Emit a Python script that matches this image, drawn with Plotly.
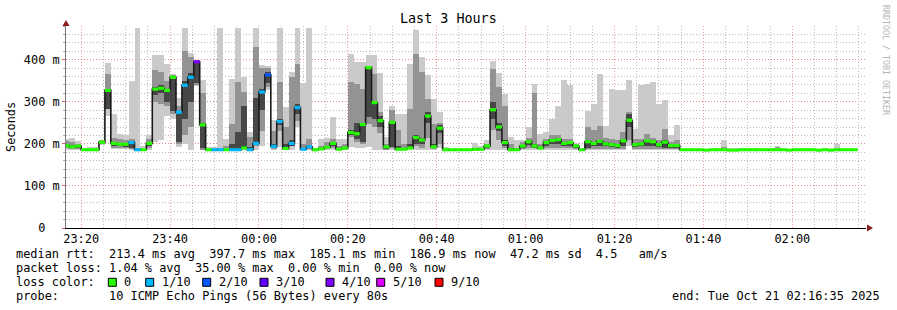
import pandas as pd
import plotly.graph_objects as go

# ---------------- data ----------------
FIRST_EDGE = pd.Timestamp("2025-10-20 23:17:20")   # left edge of column k=0
FIRST_COL = -1                                      # first column index drawn
STEP_S = 80                                         # seconds per consolidated step
RANGE_START = "2025-10-20 23:16:35"
RANGE_END = "2025-10-21 02:16:35"

median_ms = [196, 193, 195, 186, 186, 186, 204, 327, 201, 199, 199, 203, 186, 186, 201,
             330, 332, 327, 358, 275, 339, 358, 395, 245, 186, 186, 186, 186, 186, 186,
             190, 186, 201, 323, 364, 194, 253, 189, 201, 286, 187, 193, 186, 188, 192,
             201, 187, 190, 227, 224, 246, 381, 298, 255, 193, 251, 187, 187, 190, 215,
             209, 266, 193, 237, 186, 186, 186, 186, 186, 187, 187, 195, 281, 240, 203,
             186, 186, 195, 205, 195, 190, 203, 208, 210, 201, 203, 195, 186, 205, 201,
             206, 200, 198, 196, 207, 256, 198, 200, 207, 205, 198, 204, 196, 196,
             186, 186, 186, 186, 185, 186, 186, 186, 185, 185, 186, 186, 186, 186, 186,
             186, 186, 186, 185, 186, 186, 186, 186, 185, 186, 185, 186, 186, 186, 186]

loss_tenths = [0, 0, 0, 0, 0, 0, 0, 0, 0, 0, 0, 1, 1, 0, 0,
               0, 0, 0, 0, 1, 1, 1, 4, 0, 0, 1, 1, 0, 1, 1,
               0, 1, 1, 1, 2, 1, 1, 0, 1, 1, 1, 1, 0, 0, 0,
               0, 0, 0, 0, 0, 0, 0, 0, 0, 0, 0, 0, 0, 0, 0,
               0, 0, 0, 0, 0, 0, 0, 0, 0, 0, 0, 0, 0, 0, 0,
               0, 0, 0, 0, 0, 0, 0, 0, 0, 0, 0, 0, 0, 0, 0,
               0, 0, 0, 0, 0, 0, 0, 0, 0, 0, 0, 0, 0, 0,
               0, 0, 0, 0, 0, 0, 0, 0, 0, 0, 0, 0, 0, 0, 0,
               0, 0, 0, 0, 0, 0, 0, 0, 0, 0, 0, 0, 0, 0, 0]

ping_min = [186, 186, 186, 185, 185, 185, 198, 265, 188, 188, 187, 186, 185, 185, 186,
            204, 210, 265, 260, 192, 200, 186, 338, 186, 185, 185, 185, 185, 185, 185,
            186, 185, 186, 196, 327, 186, 192, 186, 186, 240, 185, 186, 185, 185, 186,
            186, 185, 185, 192, 190, 190, 192, 186, 186, 185, 186, 185, 185, 186, 186,
            186, 186, 186, 190, 185, 185, 185, 185, 185, 185, 185, 186, 186, 186, 186,
            185, 185, 186, 186, 186, 186, 186, 186, 186, 186, 186, 186, 185, 186, 186,
            186, 186, 186, 186, 186, 195, 186, 186, 186, 186, 186, 186, 186, 186,
            185, 185, 185, 185, 185, 185, 185, 185, 185, 185, 185, 185, 185, 185, 185,
            185, 185, 185, 185, 185, 185, 185, 185, 185, 185, 185, 185, 185, 185, 185]

ping_max = [212, 214, 206, 188, 193, 192, 210, 393, 270, 224, 222, 350, 476, 195, 222,
            410, 412, 390, 365, 310, 476, 416, 400, 352, 192, 192, 476, 212, 355, 476,
            359, 228, 476, 388, 386, 257, 476, 287, 370, 476, 344, 476, 190, 212, 215,
            263, 212, 212, 414, 394, 394, 410, 410, 368, 216, 290, 270, 270, 390, 470,
            406, 363, 307, 275, 192, 188, 188, 187, 187, 203, 196, 209, 398, 369, 319,
            217, 208, 208, 240, 343, 224, 228, 260, 291, 351, 340, 203, 190, 278, 294,
            367, 243, 331, 329, 329, 352, 236, 340, 343, 347, 295, 305, 221, 245,
            187, 187, 187, 187, 187, 187, 190, 210, 190, 190, 190, 190, 190, 187, 187,
            190, 196, 190, 187, 190, 187, 187, 187, 187, 190, 187, 200, 187, 187, 187]

mid_lo = [189, 188, 187, 185, 185, 185, 199, 295, 190, 190, 189, 188, 185, 185, 190,
          300, 295, 290, 270, 200, 220, 240, 340, 186, 185, 185, 185, 185, 186, 186,
          188, 185, 195, 230, 335, 188, 230, 188, 195, 255, 185, 188, 185, 186, 187,
          190, 186, 186, 216, 205, 200, 248, 240, 225, 186, 190, 186, 186, 188, 195,
          190, 215, 188, 200, 185, 185, 185, 185, 185, 186, 186, 188, 232, 210, 190,
          186, 185, 188, 190, 190, 187, 190, 190, 190, 190, 190, 187, 185, 188, 188,
          188, 188, 188, 188, 188, 210, 188, 188, 188, 188, 188, 188, 187, 187,
          185, 185, 185, 185, 185, 185, 185, 186, 185, 185, 185, 185, 185, 185, 185,
          185, 185, 185, 185, 185, 185, 185, 185, 185, 185, 185, 185, 185, 185, 185]

mid_hi = [206, 205, 200, 187, 188, 188, 208, 367, 215, 212, 210, 212, 190, 188, 212,
          375, 370, 350, 364, 290, 420, 406, 399, 320, 188, 188, 190, 195, 248, 347,
          323, 216, 430, 380, 380, 230, 347, 240, 360, 390, 200, 212, 187, 195, 205,
          212, 195, 200, 347, 343, 331, 382, 367, 275, 200, 280, 233, 200, 283, 414,
          370, 307, 248, 250, 187, 187, 187, 187, 187, 190, 190, 200, 378, 335, 290,
          200, 190, 205, 215, 321, 200, 212, 222, 222, 212, 212, 200, 188, 240, 232,
          243, 215, 212, 210, 228, 275, 212, 212, 224, 215, 210, 236, 205, 210,
          187, 187, 187, 187, 187, 187, 187, 192, 187, 187, 187, 187, 187, 187, 187,
          187, 193, 187, 187, 187, 187, 187, 187, 187, 187, 187, 190, 187, 187, 187]

core_lo = [192, 189, 189, 186, 186, 186, 201, 282, 194, 194, 193, 190, 185, 186, 196,
           315, 320, 300, 278, 204, 260, 300, 345, 190, 185, 185, 185, 185, 186, 186,
           189, 185, 200, 280, 345, 190, 245, 188, 196, 270, 186, 189, 185, 186, 189,
           195, 186, 187, 220, 212, 205, 263, 260, 240, 188, 192, 186, 186, 189, 200,
           200, 250, 189, 225, 185, 185, 185, 185, 185, 186, 186, 190, 260, 230, 195,
           186, 186, 190, 198, 190, 188, 196, 200, 200, 195, 195, 190, 186, 190, 195,
           195, 194, 193, 191, 195, 240, 193, 194, 196, 195, 192, 190, 190, 190,
           185, 185, 185, 185, 185, 185, 185, 185, 185, 185, 185, 185, 185, 185, 185,
           185, 185, 185, 185, 185, 185, 185, 185, 185, 185, 185, 185, 185, 185, 185]

core_hi = [199, 197, 197, 187, 187, 187, 206, 330, 205, 203, 203, 206, 188, 187, 205,
           335, 340, 330, 362, 275, 350, 368, 397, 250, 187, 187, 187, 188, 200, 228,
           290, 192, 310, 330, 370, 200, 260, 200, 210, 295, 190, 196, 187, 190, 195,
           205, 189, 193, 232, 250, 250, 383, 300, 265, 196, 255, 195, 190, 200, 220,
           215, 275, 200, 245, 187, 187, 187, 187, 187, 189, 189, 197, 300, 250, 210,
           188, 188, 198, 208, 200, 193, 206, 212, 214, 205, 206, 197, 187, 210, 205,
           210, 205, 203, 200, 210, 270, 203, 205, 210, 208, 203, 210, 200, 200,
           187, 187, 187, 187, 187, 187, 187, 187, 187, 187, 187, 187, 187, 187, 187,
           187, 187, 187, 187, 187, 187, 187, 187, 187, 187, 187, 187, 187, 187, 187]

loss_colors = {0: "#26ff00", 1: "#00b8ff", 2: "#0059ff", 3: "#5e00ff",
               4: "#7e00ff", 5: "#dd00ff", 9: "#ff0000"}
loss_labels = ["0", "1/10", "2/10", "3/10", "4/10", "5/10", "9/10"]
loss_keys = [0, 1, 2, 3, 4, 5, 9]

y_tickvals = [0, 100, 200, 300, 400]
y_ticktext = ["0\u00a0\u00a0", "100 m", "200 m", "300 m", "400 m"]

legend_lines = [
    "median rtt:  213.4 ms avg  397.7 ms max  185.1 ms min  186.9 ms now  47.2 ms sd  4.5   am/s",
    "packet loss: 1.04 % avg  35.00 % max  0.00 % min  0.00 % now",
    "loss color:",
    "probe:       10 ICMP Echo Pings (56 Bytes) every 80s",
]
end_text = "end: Tue Oct 21 02:16:35 2025"
title_text = "Last 3 Hours"

# ---------------- geometry helpers ----------------
W, H = 897, 310
PL, PR, PT, PB = 66, 866, 26, 228   # plot area in pixels
FONT = "DejaVu Sans Mono"


def px(x):
    return (x - PL) / (PR - PL)


def py(y):
    return (PB - y) / (PB - PT)


def nb(s):
    return s.replace(" ", "\u00a0")


n = len(median_ms)
step = pd.Timedelta(seconds=STEP_S)
edges = [FIRST_EDGE + step * (FIRST_COL + i) for i in range(n)]
centers = [e + step / 2 for e in edges]
rights = [e + step for e in edges]

fig = go.Figure()

# smoke layers
for lo, hi, col in [(ping_min, ping_max, "#cacaca"),
                    (mid_lo, mid_hi, "#939393"),
                    (core_lo, core_hi, "#474747")]:
    fig.add_trace(go.Bar(
        x=centers, y=[h - l for l, h in zip(lo, hi)], base=lo,
        width=STEP_S * 1000, marker=dict(color=col, line=dict(width=0)),
        hoverinfo="skip"))

# median connector (dark step line)
fig.add_trace(go.Scatter(
    x=edges + [rights[-1]], y=median_ms + [median_ms[-1]],
    mode="lines", line=dict(color="#1a1a1a", width=1.6, shape="hv"),
    hoverinfo="skip"))

# median coloured by loss
for key in sorted(set(loss_tenths)):
    xs, ys = [], []
    for i in range(n):
        if loss_tenths[i] == key:
            xs += [edges[i], rights[i], None]
            ys += [median_ms[i], median_ms[i], None]
    fig.add_trace(go.Scatter(x=xs, y=ys, mode="lines",
                             line=dict(color=loss_colors[key], width=3.2),
                             hoverinfo="skip"))

red_grid = "rgba(240,120,120,0.75)"
gray_grid = "rgba(170,170,170,0.8)"
dash = "1px,2px"

fig.update_layout(
    width=W, height=H,
    margin=dict(l=PL, r=W - PR, t=PT, b=H - PB, autoexpand=False),
    plot_bgcolor="white", paper_bgcolor="white",
    showlegend=False, barmode="overlay", bargap=0,
    font=dict(family=FONT, size=11.9, color="black"),
    xaxis=dict(
        type="date", range=[RANGE_START, RANGE_END],
        tick0="2025-10-20 23:20:00", dtick=20 * 60 * 1000, tickformat="%H:%M",
        showgrid=True, gridcolor=red_grid, griddash=dash, gridwidth=1,
        minor=dict(dtick=5 * 60 * 1000, tick0="2025-10-20 23:20:00",
                   showgrid=True, gridcolor=gray_grid, griddash=dash),
        showline=True, linecolor="black", linewidth=1,
        ticks="",
        zeroline=False, layer="above traces", fixedrange=True,
        tickfont=dict(family=FONT, size=11.9),
    ),
    yaxis=dict(
        range=[0, 480], tickvals=y_tickvals, ticktext=y_ticktext,
        showgrid=True, gridcolor=red_grid, griddash=dash, gridwidth=1,
        minor=dict(dtick=20, tick0=0, showgrid=True, gridcolor=gray_grid,
                   griddash=dash, ticks="outside", ticklen=2, tickcolor="#aaaaaa"),
        showline=True, linecolor="#7a7a7a", linewidth=1,
        ticks="outside", ticklen=3, tickcolor="#e06060",
        zeroline=False, layer="above traces", fixedrange=True,
        tickfont=dict(family=FONT, size=11.9),
    ),
)

ann = []


def text_ann(text, x, y, xanchor="left", size=11.9, color="black", angle=0, h=None):
    d = dict(text=text, x=px(x), y=py(y), xref="paper", yref="paper",
             xanchor=xanchor, yanchor="middle", showarrow=False, textangle=angle,
             borderpad=0, font=dict(family=FONT, size=size, color=color))
    if h is not None:
        d["height"] = h
    return d


ann.append(text_ann(title_text, 448, 19, "center", size=13.4))
ann.append(text_ann("Seconds", 11, 127, "center", angle=-90))
ann.append(text_ann(nb("RRDTOOL / TOBI OETIKER"), 886, 60, "center",
                    size=8.3, color="#b4b4b4", angle=90))
row_y = [254.3, 268.3, 282.3, 296.3]
for line, yy in zip(legend_lines, row_y):
    ann.append(text_ann(nb(line), 15, yy, h=14))
ann.append(text_ann(nb(end_text), 881, 296.3, "right", h=14))

shapes = []
sq_left = [108.3, 145.7, 202.7, 260, 326, 376.7, 435]
for key, lab, sx in zip(loss_keys, loss_labels, sq_left):
    shapes.append(dict(type="rect", xref="paper", yref="paper",
                       x0=px(sx), x1=px(sx + 8), y0=py(286.3), y1=py(278.3),
                       fillcolor=loss_colors[key], line=dict(color="black", width=1)))
    ann.append(text_ann(lab, sx + 15, 282.3, h=14))

arrow_col = "#8b1c1c"
shapes.append(dict(type="path", xref="paper", yref="paper",
                   path=f"M {px(66)} {py(20)} L {px(62.5)} {py(26)} L {px(69.5)} {py(26)} Z",
                   fillcolor=arrow_col, line=dict(width=0)))
shapes.append(dict(type="path", xref="paper", yref="paper",
                   path=f"M {px(873)} {py(228)} L {px(867)} {py(224.5)} L {px(867)} {py(231.5)} Z",
                   fillcolor=arrow_col, line=dict(width=0)))

fig.update_layout(annotations=ann, shapes=shapes)
fig.write_html("out.html")
